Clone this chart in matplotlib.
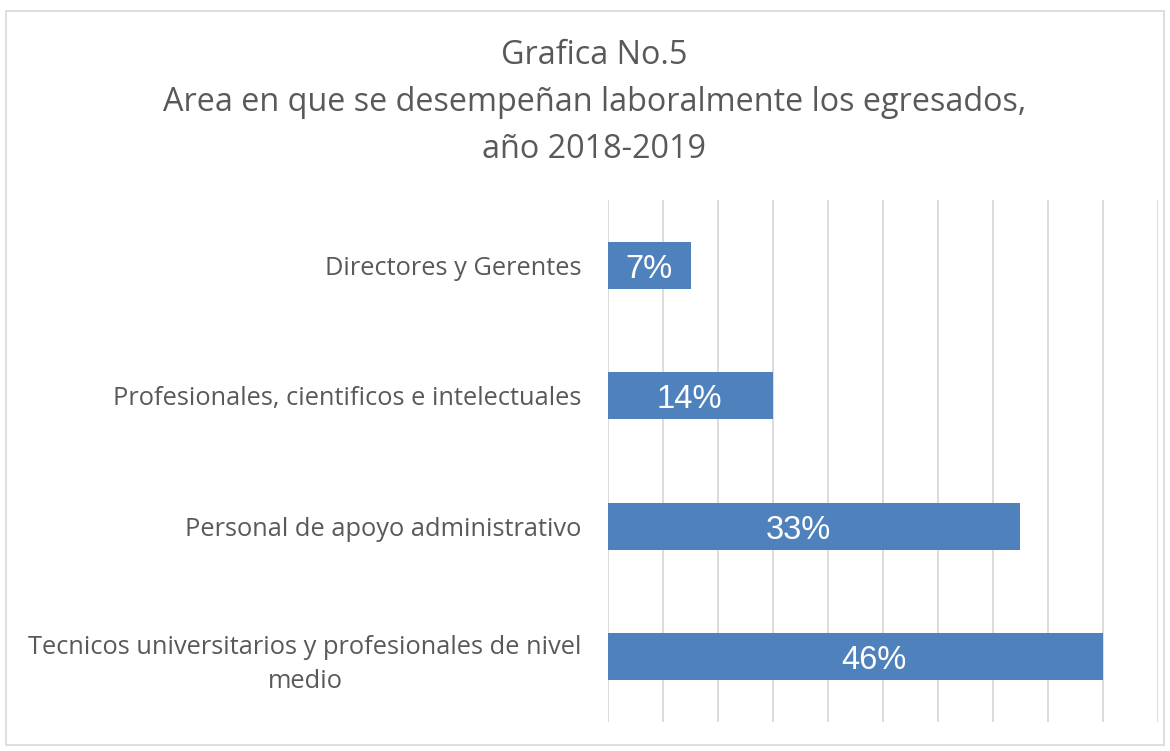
import numpy as np
import matplotlib.pyplot as plt
from matplotlib.patches import Rectangle

# Categories (bottom to top) and bar values
categorias = ['Tecnicos universitarios y profesionales de nivel\nmedio',
              'Personal de apoyo administrativo',
              'Profesionales, cientificos e intelectuales',
              'Directores y Gerentes']
valores = [18, 15, 6, 3]
porcentajes = [46, 33, 14, 7]

titulo = 'Grafica No.5\nArea en que se desempeñan laboralmente los egresados,\naño 2018-2019'

gris = '#595959'
azul = '#4f81bd'

plt.rcParams['font.family'] = ['Open Sans', 'DejaVu Sans']

fig = plt.figure(figsize=(11.7, 7.51), dpi=100)
fig.patches.append(Rectangle((0.005, 0.008), 0.99, 0.978, transform=fig.transFigure,
                             fill=False, edgecolor='#d9d9d9', linewidth=1.2))

ax = fig.add_axes([0.5197, 0.0386, 0.47, 0.695])
y = np.arange(len(categorias))
bars = ax.barh(y, valores, height=0.36, color=azul, zorder=3)

# labels sit at half the percentage, scaled to the total count
total = sum(valores)
for b, p in zip(bars, porcentajes):
    ax.text(p / 100 * total / 2, b.get_y() + b.get_height() / 2 - 0.03, f'{p}%',
            ha='center', va='center', color='white', fontsize=23.5,
            family='Liberation Sans', zorder=4)

ax.set_xlim(0, 20)
ax.set_ylim(-0.5, len(categorias) - 0.5)
ax.set_xticks(np.arange(0, 21, 2))
ax.xaxis.grid(True, color='#d9d9d9', linewidth=1.3)
ax.set_axisbelow(True)
ax.tick_params(axis='x', length=0, labelbottom=False)
ax.tick_params(axis='y', length=0, pad=19)
ax.set_yticks(y)
ax.set_yticklabels(categorias, fontsize=18.3, color=gris, ha='right', multialignment='center')
for lab in ax.get_yticklabels():
    lab.set_linespacing(1.5)
for s in ax.spines.values():
    s.set_visible(False)

fig.text(0.508, 0.948, titulo, ha='center', va='top', fontsize=23.3, color=gris,
         linespacing=1.56)

plt.savefig('out.png', dpi=100)
